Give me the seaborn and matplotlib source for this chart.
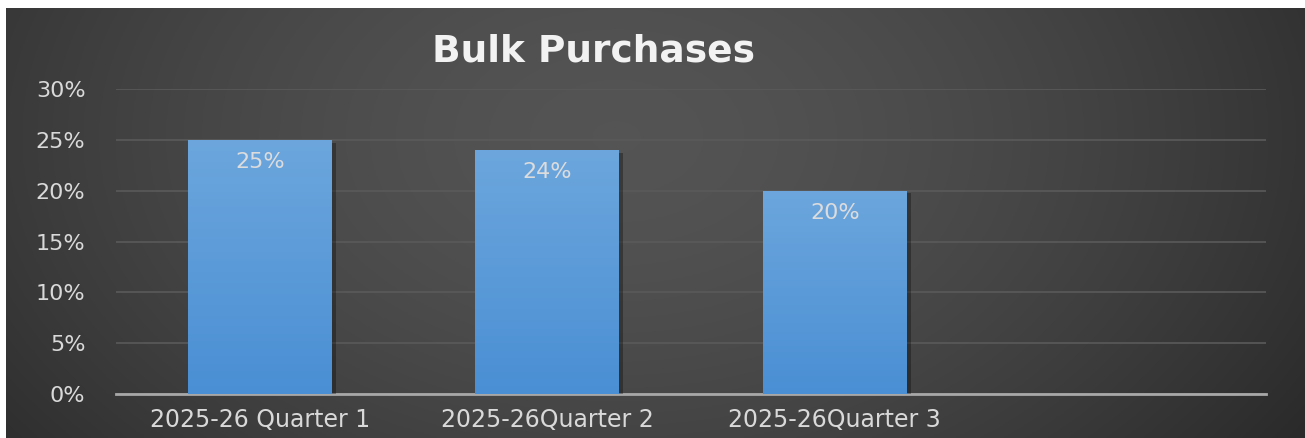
import numpy as np
import pandas as pd
import matplotlib
matplotlib.use("Agg")
import matplotlib.pyplot as plt
import matplotlib.patheffects as pe
from matplotlib.colors import LinearSegmentedColormap
from matplotlib.ticker import PercentFormatter, FixedLocator
import seaborn as sns

# Chart data
categories = ["2025-26 Quarter 1", "2025-26Quarter 2", "2025-26Quarter 3", " "]
shares = [0.25, 0.24, 0.20]
y_ticks = [0.00, 0.05, 0.10, 0.15, 0.20, 0.25, 0.30]
title = "Bulk Purchases"

sns.set_theme(style="dark")
plt.rcParams["font.family"] = ["DejaVu Sans"]

W, H = 1305, 438
fig = plt.figure(figsize=(W / 100, H / 100), dpi=100, facecolor="white")

# Dark radial backdrop behind the chart area
bg = fig.add_axes([6 / W, 0, 1 - 6 / W, (H - 8) / H])
gx, gy = np.meshgrid(np.linspace(0, 1, 600), np.linspace(0, 1, 220))
r = np.sqrt(((gx - 0.47) / 0.62) ** 2 + ((gy - 0.30) / 1.25) ** 2)
shade = 0.33 - 0.16 * np.clip(r, 0, 1.2) ** 1.6
bg.imshow(np.dstack([shade] * 3), extent=[0, 1, 0, 1], aspect="auto", origin="upper")
bg.set_axis_off()

# Main plotting axes
ax = fig.add_axes([116 / W, (H - 394) / H, 1150 / W, 305 / H])
ax.set_facecolor("none")
df = pd.DataFrame({"period": categories[:3], "share": shares})
sns.barplot(data=df, x="period", y="share", order=categories, color="#5b9bd5",
            width=0.5, linewidth=0, edgecolor="none", ax=ax, zorder=3)

bar_cmap = LinearSegmentedColormap.from_list("bar", ["#4a8fd4", "#6ca6dd"])
grad = np.linspace(0, 1, 256).reshape(-1, 1)
for patch, val in zip(ax.patches, shares):
    x, w, h = patch.get_x(), patch.get_width(), patch.get_height()
    patch.set_path_effects([pe.SimplePatchShadow(offset=(3, -2), shadow_rgbFace="black", alpha=0.3),
                            pe.Normal()])
    im = ax.imshow(grad, extent=[x, x + w, 0, h], aspect="auto", origin="lower",
                   cmap=bar_cmap, zorder=3.5)
    im.set_clip_path(patch)
    ax.annotate(f"{round(val * 100)}%", xy=(x + w / 2, h), xytext=(0, -16),
                textcoords="offset points", ha="center", va="center",
                fontsize=16, color="#dcdcdc", zorder=5)

ax.set_xlim(-0.5, len(categories) - 0.5)
ax.set_ylim(0, 0.30)
ax.yaxis.set_major_locator(FixedLocator(y_ticks))
ax.yaxis.set_major_formatter(PercentFormatter(1.0, decimals=0))
ax.yaxis.grid(True, color="#5a5a5a", lw=1.2)
ax.xaxis.grid(False)
ax.set_axisbelow(True)
ax.set_xlabel("")
ax.set_ylabel("")
for side in ("top", "right", "left"):
    ax.spines[side].set_visible(False)
ax.spines["bottom"].set_color("#a8a8a8")
ax.spines["bottom"].set_linewidth(2)
ax.tick_params(axis="y", length=0, pad=22, labelsize=16, labelcolor="#d9d9d9")
ax.tick_params(axis="x", length=0, pad=10, labelsize=17, labelcolor="#d9d9d9")

fig.text(594 / W, 1 - 51 / H, title, ha="center", va="center",
         fontsize=27, fontweight="bold", color="#f2f2f2")

fig.savefig("out.png", dpi=100, facecolor="white")
